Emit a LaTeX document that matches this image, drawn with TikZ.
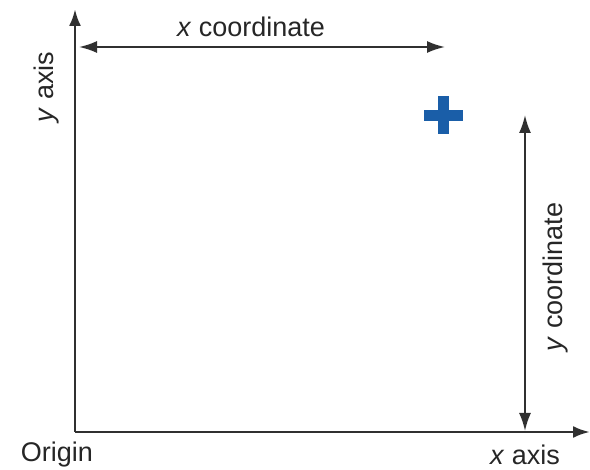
\documentclass[tikz,border=0pt]{standalone}
\usepackage{fontspec}
\setmainfont{Liberation Sans}
\usepackage{tikz}
\usetikzlibrary{arrows.meta,positioning}
\definecolor{plusblue}{HTML}{1A5EA8}
\definecolor{axisgray}{HTML}{303030}

\begin{document}
\begin{tikzpicture}[x=1pt,y=-1pt,
  axis/.style={draw=axisgray,line width=2.8pt,-{Latex[length=17pt,width=12pt]}},
  dim/.style={draw=axisgray,line width=2pt,{Latex[length=18pt,width=12pt]}-{Latex[length=18pt,width=12pt]}},
  lab/.style={font=\fontsize{27}{30}\selectfont,text=black!85,inner sep=0pt,anchor=base}]
  \useasboundingbox (0,0) rectangle (590,470);
  \coordinate (o) at (75,432);
  \coordinate (ytip) at (75,9);
  \coordinate (xtip) at (590,432);
  \coordinate (xcl) at (79,47);
  \coordinate (xcr) at (445,47);
  \coordinate (yct) at (525,115);
  \coordinate (ycb) at (525,431);
  \draw[axis] (o) -- (ytip);
  \draw[axis] (o) -- (xtip);
  \draw[dim] (xcl) -- (xcr);
  \draw[dim] (ycb) -- (yct);
  \node[lab] (xcoord) at (251,37) {\textit{x} coordinate};
  \node[lab,rotate=90] (ycoord) at (562,277) {\textit{y} coordinate};
  \node[lab,rotate=90] (yaxis) at (53,87) {\textit{y} axis};
  \node[lab] (xaxis) at (525,465) {\textit{x} axis};
  \node[lab] (orig) at (57,462) {Origin};
  % the plotted point
  \node[fill=plusblue,minimum width=39pt,minimum height=11pt,inner sep=0pt] (pth) at (443.5,115.5) {};
  \node[fill=plusblue,minimum width=11pt,minimum height=38pt,inner sep=0pt] (ptv) at (pth) {};
\end{tikzpicture}
\end{document}
